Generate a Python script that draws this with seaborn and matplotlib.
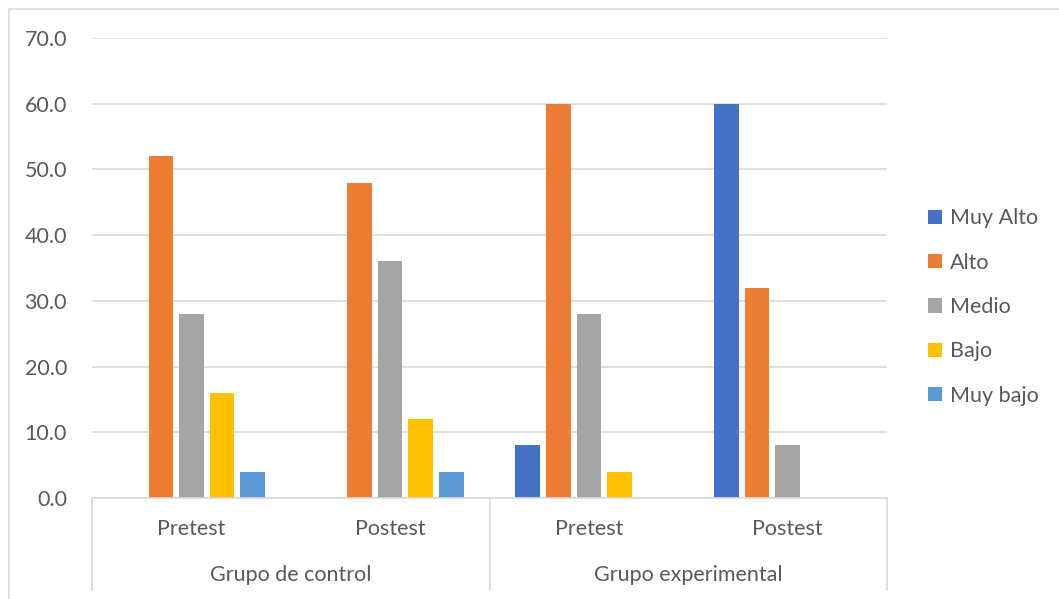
import matplotlib
matplotlib.use("Agg")
import matplotlib.pyplot as plt
import seaborn as sns
import pandas as pd
from matplotlib.patches import Rectangle
from matplotlib.lines import Line2D

groups = ["Grupo de control", "Grupo de control", "Grupo experimental", "Grupo experimental"]
tests = ["Pretest", "Postest", "Pretest", "Postest"]
levels = ["Muy Alto", "Alto", "Medio", "Bajo", "Muy bajo"]
muy_alto = [0, 0, 8, 60]
alto = [52, 48, 60, 32]
medio = [28, 36, 28, 8]
bajo = [16, 12, 4, 0]
muy_bajo = [4, 4, 0, 0]
colors = ["#4472C4", "#ED7D31", "#A5A5A5", "#FFC000", "#5B9BD5"]
yticks = [0, 10, 20, 30, 40, 50, 60, 70]

series = [muy_alto, alto, medio, bajo, muy_bajo]
keys = [f"{g}|{t}" for g, t in zip(groups, tests)]
rows = []
for lvl, vals in zip(levels, series):
    for k, v in zip(keys, vals):
        rows.append({"cat": k, "nivel": lvl, "valor": v})
df = pd.DataFrame(rows)

sns.set_theme(style="white")
plt.rcParams["font.family"] = ["Lato", "DejaVu Sans"]
txt = "#595959"
gridc = "#D9D9D9"
fs = 15.5

W, H = 1059, 599
fig = plt.figure(figsize=(W / 100, H / 100), dpi=100)
ax = fig.add_axes([92 / W, 1 - 498 / H, (887 - 92) / W, (498 - 38) / H])

sns.barplot(data=df, x="cat", y="valor", hue="nivel", order=keys, hue_order=levels,
            palette=colors, width=0.77, gap=0.2, saturation=1, ax=ax, legend=True,
            linewidth=0)

ax.set_xlim(-0.5, 3.5)
ax.set_ylim(0, 70)
ax.set_yticks(yticks)
ax.set_yticklabels([f"{v:.1f}" for v in yticks], color=txt, fontsize=fs)
ax.tick_params(axis="y", length=0, pad=18)
ax.set_xticks([])
ax.set_xlabel("")
ax.set_ylabel("")
ax.grid(axis="y", color=gridc, linewidth=1.2)
ax.set_axisbelow(True)
for s in ["top", "right", "left"]:
    ax.spines[s].set_visible(False)
ax.spines["bottom"].set_color(gridc)
ax.spines["bottom"].set_linewidth(1.2)

# multi-level category axis
trans = ax.get_xaxis_transform()
for xv in [-0.5, 1.5, 3.5]:
    ax.add_line(Line2D([xv, xv], [0, -(590 - 498) / (498 - 38)], transform=trans,
                       color=gridc, linewidth=1.2, clip_on=False))
for i, t in enumerate(tests):
    ax.text(i, -(529 - 498) / (498 - 38), t, transform=trans, ha="center", va="center",
            color=txt, fontsize=fs)
for xc, g in [(0.5, groups[0]), (2.5, groups[2])]:
    ax.text(xc, -(575 - 498) / (498 - 38), g, transform=trans, ha="center", va="center",
            color=txt, fontsize=fs)

leg = ax.legend(loc="center left", bbox_to_anchor=(919 / W, 1 - 307 / H),
                bbox_transform=fig.transFigure, frameon=False, fontsize=fs,
                handlelength=0.65, handleheight=0.65, handletextpad=0.4,
                labelspacing=1.13, borderaxespad=0)
for t in leg.get_texts():
    t.set_color(txt)

# chart border
fig.patches.append(Rectangle((9 / W, -0.1), 1.2, 1 - 9 / H + 0.1, transform=fig.transFigure,
                             fill=False, edgecolor=gridc, linewidth=1.2))

fig.savefig("out.png", dpi=100)
